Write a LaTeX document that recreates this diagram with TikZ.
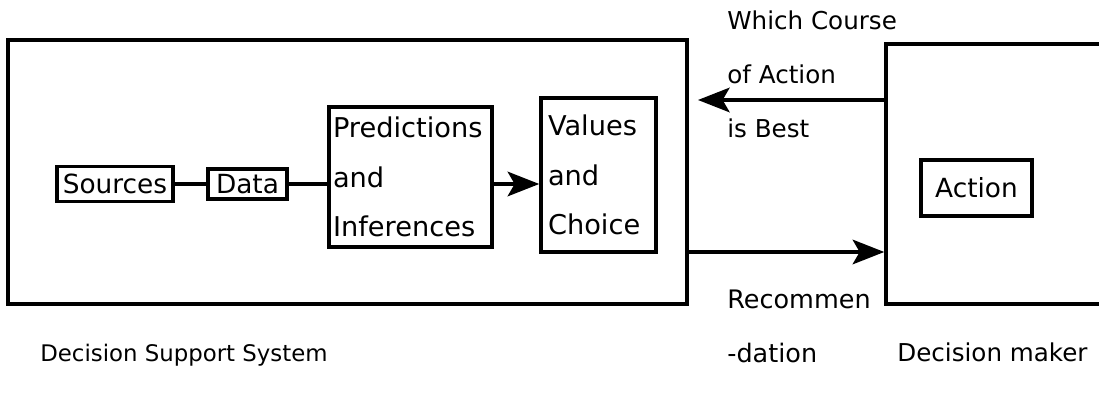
\documentclass[tikz,border=0pt]{standalone}
\usepackage{fontspec}
\setmainfont{DejaVu Sans}
\usetikzlibrary{positioning, arrows.meta}
\tikzstyle{box}=[draw, line width=2pt, inner sep=0pt]
\tikzstyle{stack}=[box, align=left, font=\fontsize{15.5}{28}\selectfont]
\tikzstyle{plain}=[inner sep=0pt, font=\fontsize{14}{30.7}\selectfont]
\tikzstyle{link}=[line width=2pt]
\tikzstyle{big arrow}=[link, -{Stealth[length=18pt,width=14pt,inset=4pt]}]

\begin{document}
\begin{tikzpicture}[x=0.02cm, y=-0.02cm]
		\clip (0,0) rectangle (1099,394);
		% Draw the two outer frames
		\node[box, minimum width=13.58cm, minimum height=5.28cm] (DSS) at (347.5,172) {};
		\node[box, minimum width=4.5cm, minimum height=5.2cm] (DM) at (998.5,174) {};
		% Boxes inside the support system
		\node[box, minimum width=2.32cm, minimum height=0.7cm, font=\fontsize{15}{18}\selectfont] (Sources) at (115,184) {Sources};
		\node[box, minimum width=1.58cm, minimum height=0.6cm, font=\fontsize{15}{18}\selectfont] (Data) at (247.5,184) {Data};
		\node[stack, inner xsep=0.08cm, text width=3.1cm, minimum height=2.8cm] (Pred) at (410.5,177) {Predictions\\and\\Inferences};
		\node[stack, inner xsep=0.14cm, text width=2.02cm, minimum height=3.08cm] (Values) at (598.5,175) {Values\\and\\Choice};
		% Box inside the decision maker
		\node[box, minimum width=2.22cm, minimum height=1.12cm, font=\fontsize{15}{18}\selectfont] (Action) at (976.5,188) {Action};
		% Connectors
		\draw[link] (Sources) -- (Data);
		\draw[link] (Data.east) -- (Data.east -| Pred.west);
		\draw[big arrow] (Pred.east |- Data.east) -- (Values.west |- Data.east);
		\coordinate (ask) at (698,100);
		\coordinate (rec) at (787,252);
		\draw[big arrow] (DM.west |- ask) -- (ask);
		\draw[big arrow] (DSS.east |- rec) -- (DM.west |- rec);
		% Labels
		\node[plain, align=left, anchor=west] (Question) at (727,74) {Which Course\\of Action\\is Best};
		\node[plain, align=left, anchor=west, font=\fontsize{14.5}{30.7}\selectfont] (Answer) at (727,326) {Recommen\\-dation};
		\node[plain, anchor=west, font=\fontsize{13}{15}\selectfont] (DSS label) at (40,355) {Decision Support System};
		\node[plain, anchor=west, font=\fontsize{14}{15}\selectfont] (DM label) at (897,352) {Decision maker};
	\end{tikzpicture}
\end{document}
